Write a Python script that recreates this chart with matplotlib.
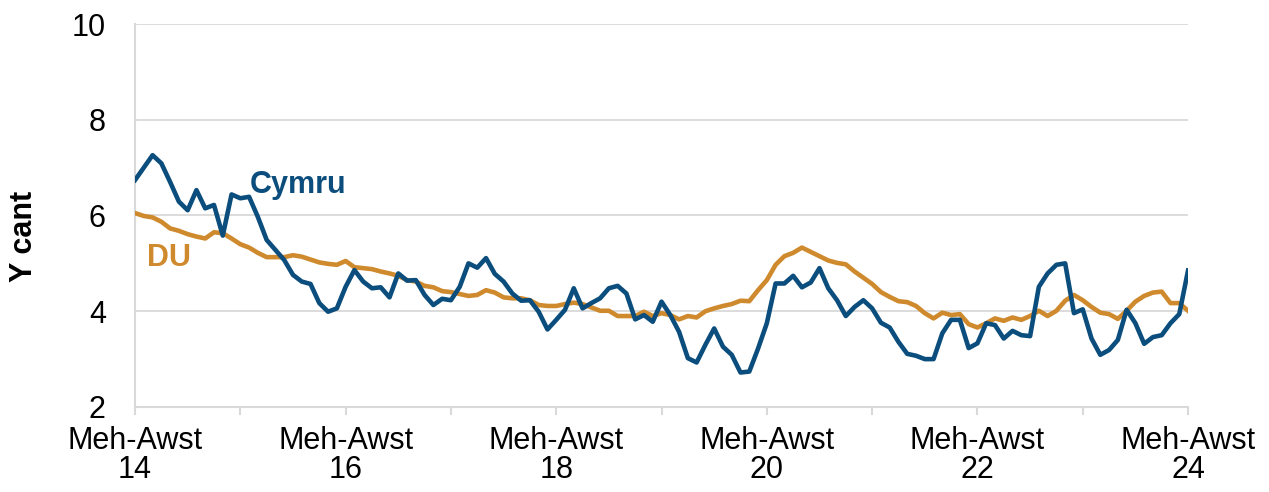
import matplotlib.pyplot as plt

plt.rcParams['font.family'] = ['Liberation Sans', 'DejaVu Sans']

# Monthly rolling values, Meh-Awst 2014 to Meh-Awst 2024
cymru = [6.74, 7.00, 7.26, 7.09, 6.70, 6.29, 6.11, 6.53, 6.15, 6.22,
         5.58, 6.44, 6.36, 6.39, 5.97, 5.49, 5.28, 5.07, 4.76, 4.62,
         4.57, 4.17, 3.99, 4.06, 4.51, 4.86, 4.62, 4.48, 4.50, 4.29,
         4.79, 4.64, 4.65, 4.34, 4.13, 4.26, 4.23, 4.51, 5.00, 4.91,
         5.11, 4.78, 4.62, 4.37, 4.22, 4.23, 3.99, 3.62, 3.82, 4.03,
         4.48, 4.06, 4.17, 4.27, 4.48, 4.53, 4.37, 3.83, 3.92, 3.78,
         4.20, 3.92, 3.57, 3.02, 2.93, 3.30, 3.64, 3.26, 3.09, 2.72,
         2.74, 3.22, 3.75, 4.58, 4.58, 4.74, 4.50, 4.60, 4.90, 4.48,
         4.23, 3.90, 4.09, 4.23, 4.06, 3.76, 3.66, 3.36, 3.11, 3.07,
         3.00, 3.00, 3.54, 3.82, 3.82, 3.23, 3.33, 3.75, 3.71, 3.43,
         3.59, 3.50, 3.48, 4.51, 4.79, 4.97, 5.00, 3.96, 4.04, 3.43,
         3.09, 3.19, 3.40, 4.03, 3.75, 3.32, 3.46, 3.50, 3.75, 3.94,
         4.85]
du = [6.05, 5.99, 5.96, 5.87, 5.73, 5.68, 5.61, 5.56, 5.52, 5.65,
      5.63, 5.52, 5.40, 5.33, 5.22, 5.13, 5.13, 5.13, 5.17, 5.14,
      5.08, 5.02, 4.99, 4.97, 5.05, 4.92, 4.90, 4.88, 4.83, 4.79,
      4.74, 4.65, 4.62, 4.53, 4.50, 4.42, 4.40, 4.36, 4.32, 4.34,
      4.44, 4.39, 4.29, 4.27, 4.27, 4.23, 4.13, 4.11, 4.11, 4.15,
      4.18, 4.15, 4.08, 4.01, 4.01, 3.90, 3.90, 3.90, 3.99, 3.90,
      3.96, 3.92, 3.83, 3.90, 3.87, 4.00, 4.06, 4.11, 4.15, 4.22,
      4.21, 4.44, 4.65, 4.97, 5.15, 5.22, 5.33, 5.24, 5.15, 5.06,
      5.01, 4.98, 4.83, 4.70, 4.57, 4.40, 4.30, 4.21, 4.19, 4.11,
      3.96, 3.85, 3.97, 3.92, 3.94, 3.73, 3.66, 3.75, 3.85, 3.80,
      3.87, 3.82, 3.90, 4.01, 3.90, 4.01, 4.22, 4.34, 4.23, 4.09,
      3.97, 3.94, 3.84, 4.01, 4.20, 4.32, 4.39, 4.41, 4.17, 4.17,
      4.01]
tick_labels = ['Meh-Awst\n14', 'Meh-Awst\n16', 'Meh-Awst\n18',
               'Meh-Awst\n20', 'Meh-Awst\n22', 'Meh-Awst\n24']

blue = '#0b4d7c'
orange = '#cf8a2e'
grey = '#d9d9d9'

fig = plt.figure(figsize=(12.69, 4.92), dpi=100)
ax = fig.add_axes([0.1064, 0.1728, 0.8298, 0.7784])

months = range(len(cymru))
ax.plot(months, du, color=orange, lw=3.3, solid_joinstyle='round', zorder=3)
ax.plot(months, cymru, color=blue, lw=3.3, solid_joinstyle='round', zorder=4)

ax.set_xlim(0, 120)
ax.set_ylim(2, 10)
ax.set_yticks([2, 4, 6, 8, 10])
ax.set_xticks(range(0, 121, 24))
ax.set_xticklabels(tick_labels)
ax.set_xticks(range(12, 121, 24), minor=True)

ax.grid(axis='y', color=grey, lw=1.3, zorder=0)
for s in ['top', 'right']:
    ax.spines[s].set_visible(False)
for s in ['left', 'bottom']:
    ax.spines[s].set_color(grey)
    ax.spines[s].set_linewidth(1.5)

ax.tick_params(axis='y', length=0, pad=21, labelsize=22)
ax.tick_params(axis='x', which='both', length=6, width=1.5, color=grey,
               pad=8, labelsize=22)
for lab in ax.get_xticklabels():
    lab.set_linespacing(0.95)

ax.set_ylabel('Y cant', fontsize=22, fontweight='bold')
ax.yaxis.set_label_coords(-0.091, 0.446)

ax.text(18.6, 6.64, 'Cymru', color=blue, fontsize=22, fontweight='bold',
        ha='center', va='center')
ax.text(3.9, 5.11, 'DU', color=orange, fontsize=22, fontweight='bold',
        ha='center', va='center')

fig.savefig('out.png', dpi=100)
